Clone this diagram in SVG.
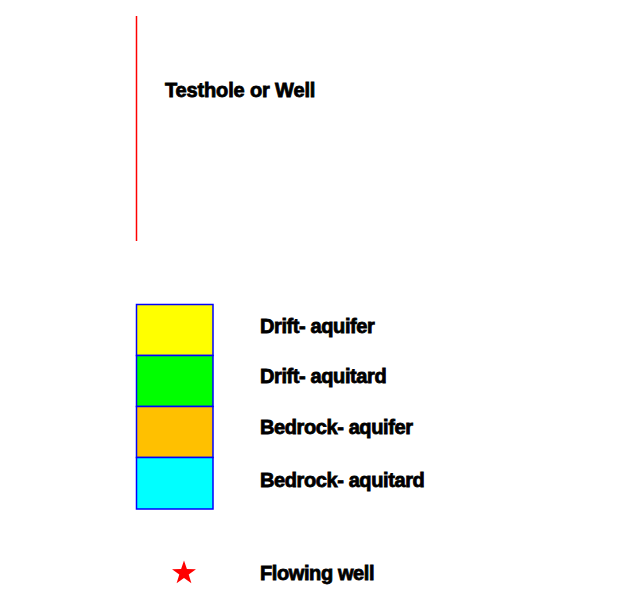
<svg xmlns="http://www.w3.org/2000/svg" width="625" height="612" viewBox="0 0 625 612">
<style>
text{font-family:"Liberation Sans",Arial,sans-serif;font-weight:bold;font-size:20px;fill:#000;stroke:#000;stroke-width:0.8px;letter-spacing:-0.4px}
.sw{stroke:#0000ff;stroke-width:1.5}
</style>
<rect width="625" height="612" fill="#fff"/>
<g id="well">
<line x1="136.5" y1="16" x2="136.5" y2="241" stroke="#ff0000" stroke-width="1.5"/>
<text x="165" y="97" style="letter-spacing:-0.15px">Testhole or Well</text>
</g>
<g id="drift-aquifer"><rect class="sw" x="136.5" y="304.5" width="76.5" height="51" fill="#ffff00"/><text x="260" y="333">Drift- aquifer</text></g>
<g id="drift-aquitard"><rect class="sw" x="136.5" y="355.5" width="76.5" height="51" fill="#00ff00"/><text x="260" y="383">Drift- aquitard</text></g>
<g id="bedrock-aquifer"><rect class="sw" x="136.5" y="406.5" width="76.5" height="51" fill="#ffc000"/><text x="260" y="434">Bedrock- aquifer</text></g>
<g id="bedrock-aquitard"><rect class="sw" x="136.5" y="457.5" width="76.5" height="51.5" fill="#00ffff"/><text x="260" y="487">Bedrock- aquitard</text></g>
<g id="flowing-well">
<polygon fill="#ff0000" points="184,560.5 186.9,569.1 196,569.2 188.7,574.6 191.4,583.3 184,578 176.6,583.3 179.3,574.6 172,569.2 181.1,569.1"/>
<text x="260" y="580">Flowing well</text>
</g>
<g id="connectors"/>
</svg>
